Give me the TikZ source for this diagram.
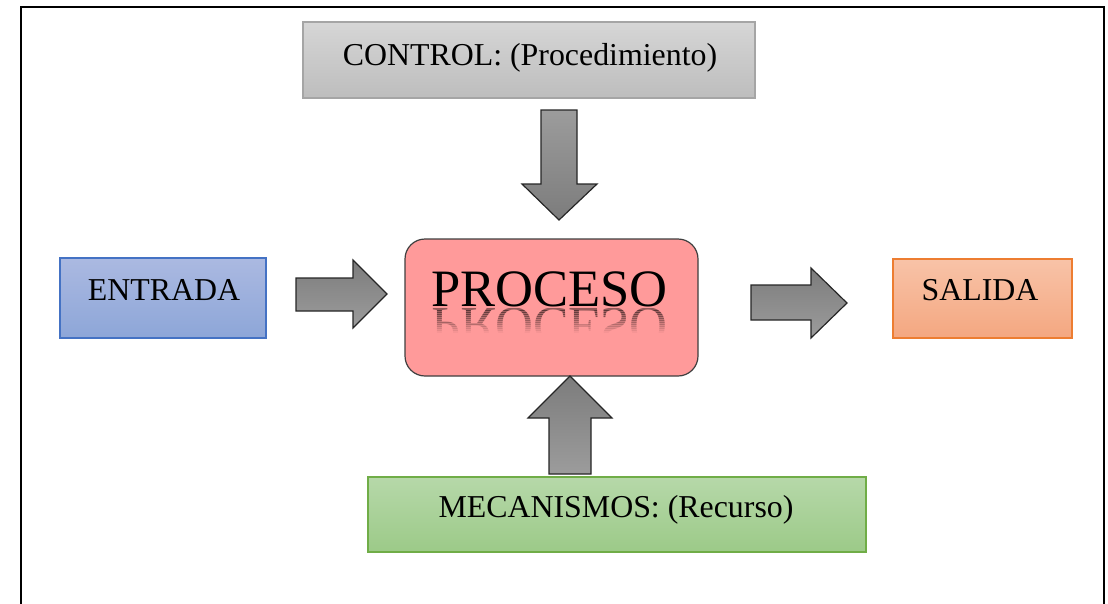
\documentclass[tikz,border=0pt]{standalone}
\usepackage{fontspec}
\setmainfont{Liberation Serif}
\usetikzlibrary{calc}
\definecolor{ctrlT}{HTML}{D6D6D6}
\definecolor{ctrlB}{HTML}{BDBDBD}
\definecolor{ctrlD}{HTML}{A5A5A5}
\definecolor{entT}{HTML}{ABB9E1}
\definecolor{entB}{HTML}{8DA6D8}
\definecolor{entD}{HTML}{4472C4}
\definecolor{salT}{HTML}{F8C3A8}
\definecolor{salB}{HTML}{F4A780}
\definecolor{salD}{HTML}{ED7D31}
\definecolor{mecT}{HTML}{B6D8A9}
\definecolor{mecB}{HTML}{9CCA88}
\definecolor{mecD}{HTML}{70AD47}
\definecolor{proF}{HTML}{FF9A9A}
\definecolor{proD}{HTML}{3F3F3F}
\definecolor{arrT}{HTML}{7C7C7C}
\definecolor{arrB}{HTML}{9C9C9C}
\begin{document}
\begin{tikzpicture}[x=0.75pt,y=-0.75pt,
  lbl/.style={font=\fontsize{23.9}{28}\selectfont, inner sep=0pt, anchor=base},
  big/.style={font=\fontsize{39.4}{46}\selectfont, inner sep=0pt, anchor=base},
  box/.style={line width=0.9pt, inner sep=0pt},
  blk/.style={draw=black!85, line width=0.9pt, line join=miter}]
\useasboundingbox (0,0) rectangle (1108,604);
\draw[line width=2.2pt] (21,604) -- (21,7) -- (1104,7) -- (1104,604);

% boxes
\node[box, draw=ctrlD, top color=ctrlT, bottom color=ctrlB, minimum width=339pt, minimum height=57pt] (control) at (529,60) {};
\node[lbl] (controlt) at (530,65) {CONTROL: (Procedimiento)};

\node[box, draw=entD, top color=entT, bottom color=entB, minimum width=154.5pt, minimum height=60pt] (entrada) at (163,298) {};
\node[lbl] (entradat) at (164,300) {ENTRADA};

\node[box, draw=salD, top color=salT, bottom color=salB, minimum width=134.25pt, minimum height=59.25pt] (salida) at (982.5,298.5) {};
\node[lbl] (salidat) at (980,300) {SALIDA};

\node[box, draw=mecD, top color=mecT, bottom color=mecB, minimum width=373.5pt, minimum height=56.25pt] (mecanismos) at (617,514.5) {};
\node[lbl] (mecanismost) at (616,517) {MECANISMOS: (Recurso)};

\node[box, draw=proD, fill=proF, rounded corners=15pt, minimum width=219.75pt, minimum height=102.75pt] (proceso) at (551.5,307.5) {};
\node[big] (procesot) at (549.5,306.5) {PROCESO};
\foreach \i in {0,...,11}{
  \pgfmathsetmacro\op{0.42-0.035*\i}
  \begin{scope}
    \clip (420,{308+2*\i}) rectangle (690,{310+2*\i});
    \node[big, yscale=-1, text opacity=\op] (refl\i) at (549.5,308) {PROCESO};
  \end{scope}
}

% block arrows
\draw[blk, top color=arrT, bottom color=arrB] (296,278) -- (353,278) -- (353,260) -- (387,294) -- (353,328) -- (353,311) -- (296,311) -- cycle;
\draw[blk, top color=arrT, bottom color=arrB] (751,285) -- (811,285) -- (811,268) -- (847,303) -- (811,338) -- (811,320) -- (751,320) -- cycle;
\draw[blk, top color=arrB, bottom color=arrT] (541,110) -- (577,110) -- (577,184) -- (597,184) -- (559,220) -- (522,184) -- (541,184) -- cycle;
\draw[blk, top color=arrT, bottom color=arrB] (549,474) -- (549,418) -- (528,418) -- (570,376) -- (612,418) -- (591,418) -- (591,474) -- cycle;
\end{tikzpicture}
\end{document}
